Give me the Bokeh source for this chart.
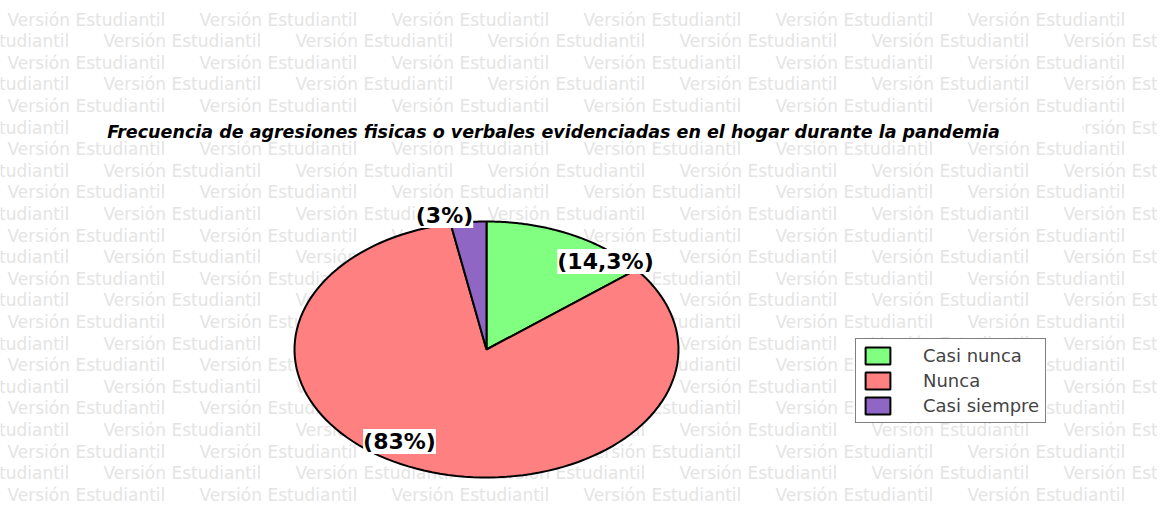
import numpy as np
from bokeh.plotting import figure
from bokeh.models import Range1d, Label, Legend, LegendItem
from bokeh.core.properties import value
from bokeh.embed import file_html
from bokeh.resources import INLINE

# ---- data ----
categories = ["Casi nunca", "Nunca", "Casi siempre"]
values = [14.3, 83.0, 3.0]
labels = ["(14,3%)", "(83%)", "(3%)"]
colors = ["#80ff80", "#ff8080", "#8f66c4"]
title_text = "Frecuencia de agresiones fisicas o verbales evidenciadas en el hogar durante la pandemia"
watermark = "Versión Estudiantil"

# ---- layout ----
W, H = 1157, 506
cx, cy, rx, ry = 486, 349, 192, 128
label_pos = [(605, 261), (399, 441), (444, 215)]

p = figure(width=W, height=H, x_range=Range1d(0, W), y_range=Range1d(H, 0),
           output_backend="svg", toolbar_location=None, min_border=0,
           x_axis_location=None, y_axis_location=None)
p.grid.visible = False
p.outline_line_color = None
p.background_fill_color = "white"
p.border_fill_color = "white"

# watermark
wx, wy = [], []
for r in range(24):
    y = 19 + 21.6 * r
    x0 = 7 if r % 2 == 0 else -89
    for k in range(7):
        x = x0 + 192 * k
        if x < -100 or x > 1150:
            continue
        wx.append(x)
        wy.append(y)
p.text(x=wx, y=wy, text=[watermark] * len(wx), text_font=value("DejaVu Sans"),
       text_font_size="17px", text_color="#e4e4e4", text_baseline="middle", text_align="left")

# title background + title
p.quad(left=98, right=1082, top=118, bottom=140, fill_color="white", line_color=None)
p.add_layout(Label(x=553, y=131, text=title_text, text_font="DejaVu Sans",
                   text_font_style="bold italic", text_font_size="17.5px",
                   text_align="center", text_baseline="middle", text_color="black"))

# pie (elliptical)
total = sum(values)
start = 0.0
items = []
for cat, v, c in zip(categories, values, colors):
    frac = v / total
    t = np.linspace(start, start + frac, 120) * 2 * np.pi
    xs = [cx] + list(cx + rx * np.sin(t))
    ys = [cy] + list(cy - ry * np.cos(t))
    r = p.patch(xs, ys, fill_color=c, line_color="black", line_width=2)
    items.append(LegendItem(label=cat, renderers=[r]))
    start += frac

for lab, (lx, ly) in zip(labels, label_pos):
    p.add_layout(Label(x=lx, y=ly, text=lab, text_font="DejaVu Sans", text_font_style="bold",
                       text_font_size="22px", text_align="center", text_baseline="middle",
                       text_color="black", background_fill_color="white"))

legend = Legend(items=items, location=(855, H - 423), border_line_color="black", border_line_width=1.5,
                background_fill_color="white", background_fill_alpha=1.0,
                label_text_font="DejaVu Sans", label_text_font_size="18px",
                glyph_width=31, glyph_height=21, label_height=21, label_standoff=30,
                padding=6, spacing=4, margin=0)
p.add_layout(legend)

open("out.html", "w").write(file_html(p, INLINE))
